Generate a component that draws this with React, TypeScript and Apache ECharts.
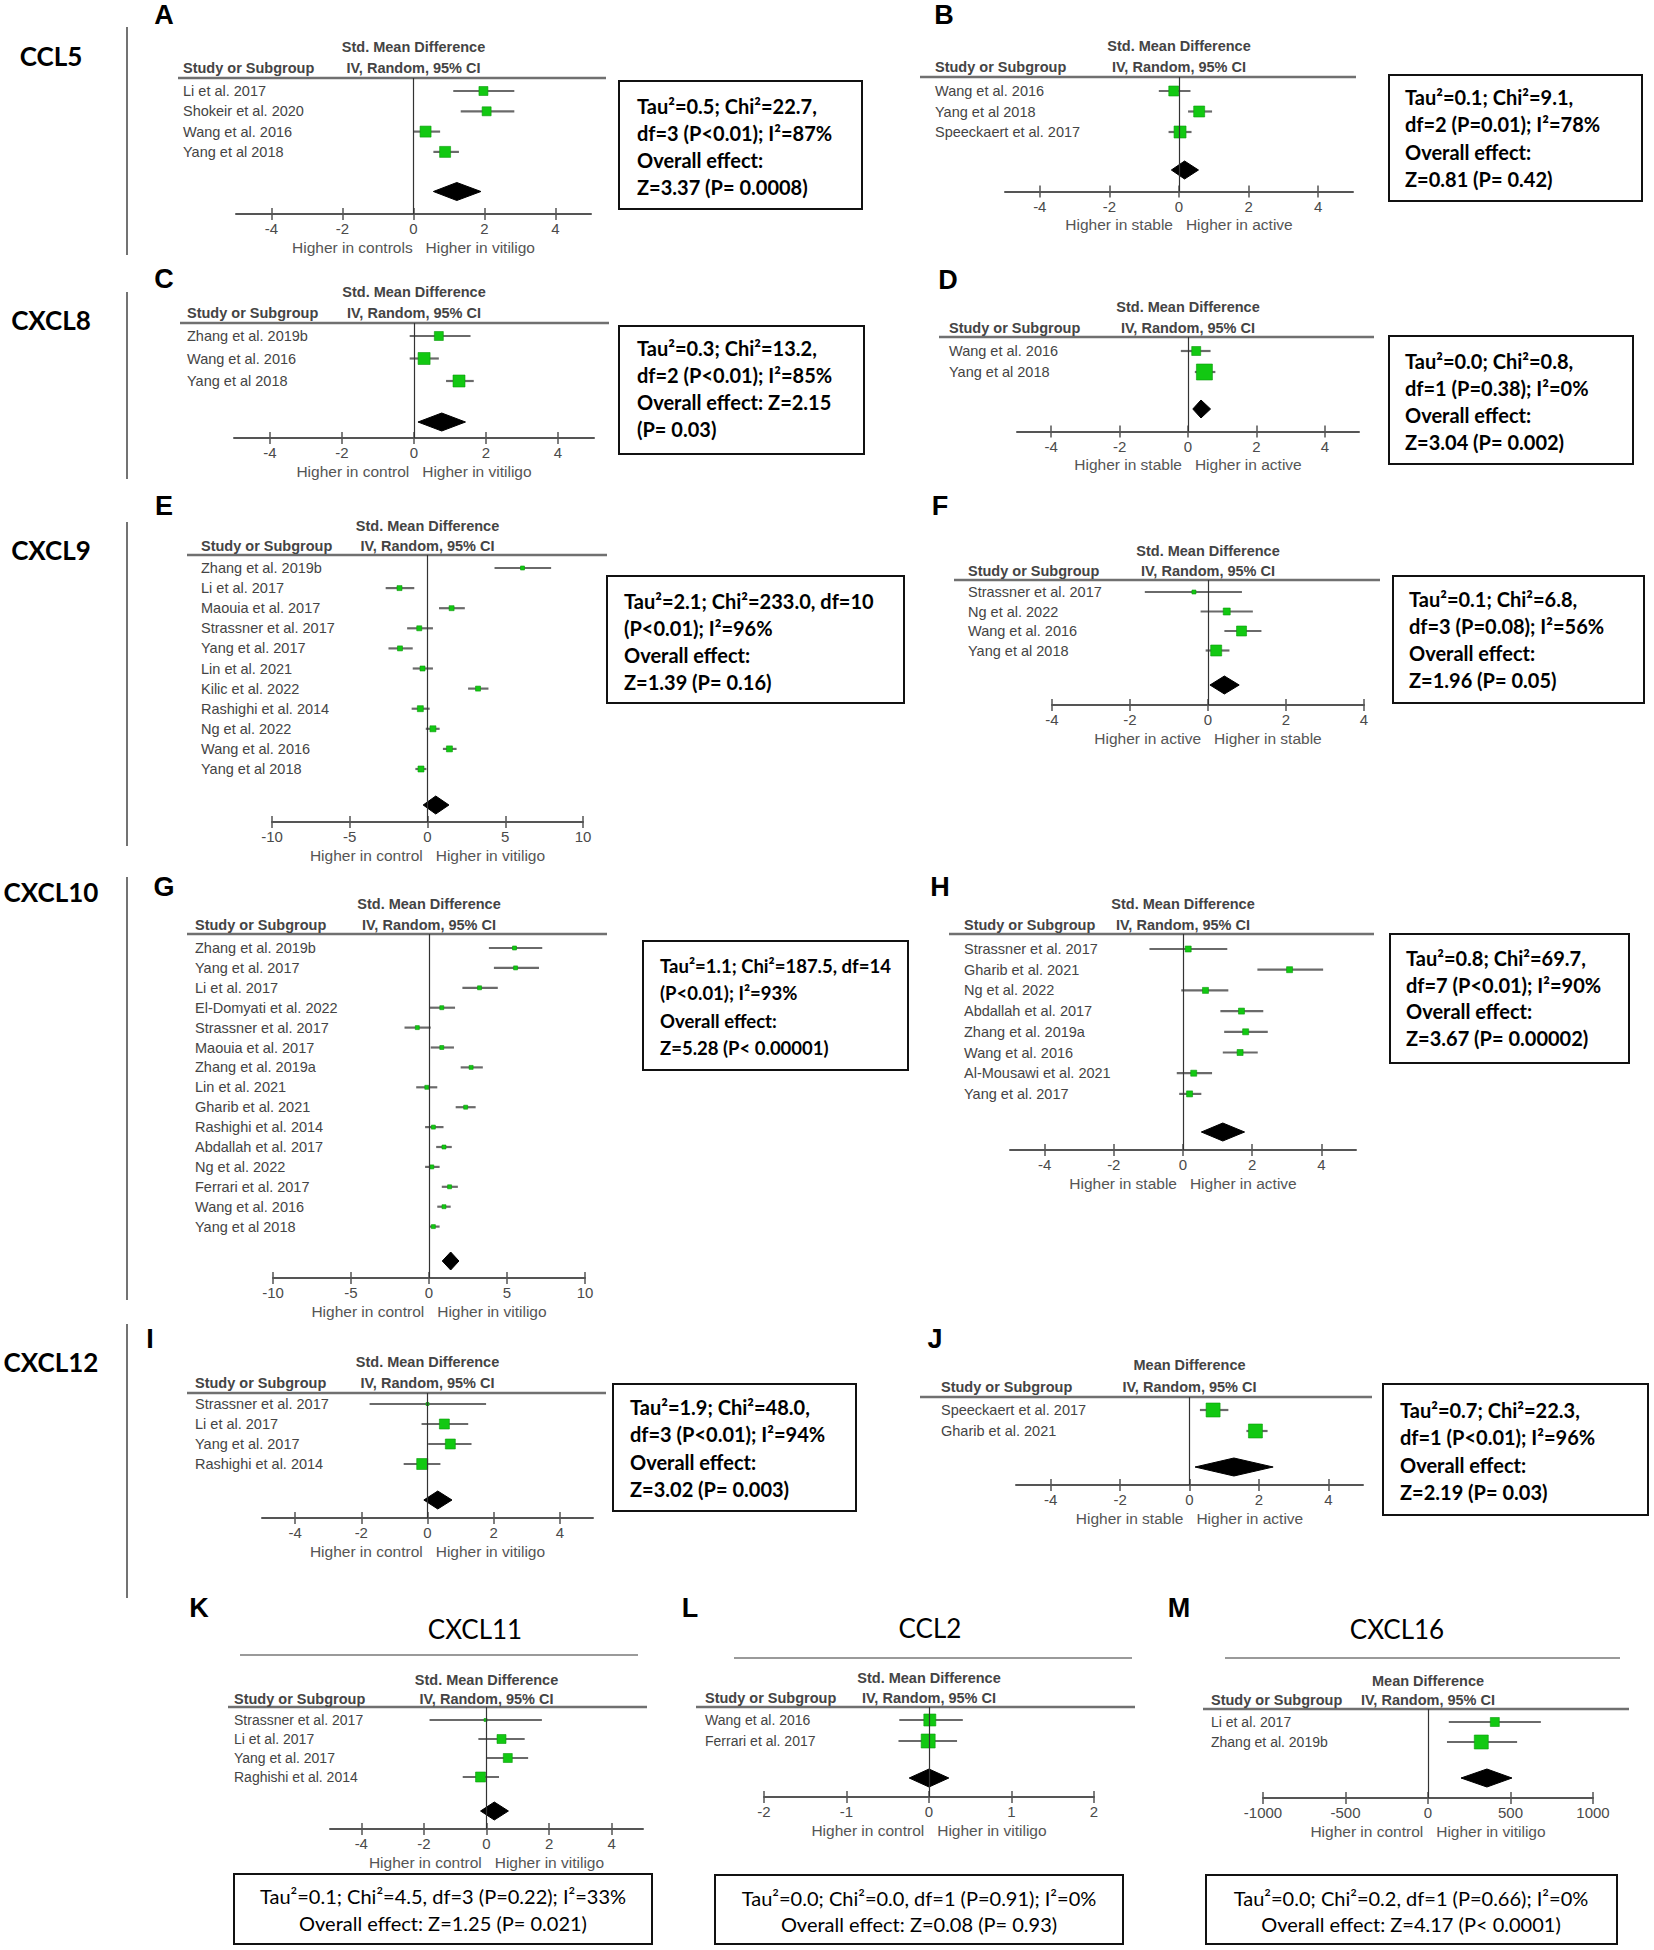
import React, { useEffect, useRef } from "react";
import * as echarts from "echarts";

// ---------------- tick labels ----------------
const ticksPm4 = [-4, -2, 0, 2, 4];
const ticksPm10 = [-10, -5, 0, 5, 10];
const ticksPm2 = [-2, -1, 0, 1, 2];
const ticksPm1000 = [-1000, -500, 0, 500, 1000];

// ---------------- axis captions ----------------
const capControlsA = "Higher in controls   Higher in vitiligo";
const capControl = "Higher in control   Higher in vitiligo";
const capStableActive = "Higher in stable   Higher in active";
const capActiveStable = "Higher in active   Higher in stable";

// ---------------- A: CCL5 ----------------
const studiesA = ["Li et al. 2017", "Shokeir et al. 2020", "Wang et al. 2016", "Yang et al 2018"];
const estA = [1.97, 2.06, 0.34, 0.89];
const loA = [1.12, 1.33, 0.0, 0.56];
const hiA = [2.84, 2.84, 0.75, 1.28];
const sizeA = [9, 9, 11, 11];
const overallA = [0.56, 1.22, 1.9];
const statA = ["Tau²=0.5; Chi²=22.7,", "df=3 (P<0.01); I²=87%", "Overall effect:", "Z=3.37 (P= 0.0008)"];

// ---------------- B: CCL5 active/stable ----------------
const studiesB = ["Wang et al. 2016", "Yang et al 2018", "Speeckaert et al. 2017"];
const estB = [-0.15, 0.58, 0.03];
const loB = [-0.58, 0.26, -0.3];
const hiB = [0.33, 0.95, 0.36];
const sizeB = [10, 11, 12];
const overallB = [-0.22, 0.16, 0.56];
const statB = ["Tau²=0.1; Chi²=9.1,", "df=2 (P=0.01); I²=78%", "Overall effect:", "Z=0.81 (P= 0.42)"];

// ---------------- C: CXCL8 ----------------
const studiesC = ["Zhang et al. 2019b", "Wang et al. 2016", "Yang et al 2018"];
const estC = [0.69, 0.28, 1.25];
const loC = [-0.12, -0.12, 0.89];
const hiC = [1.57, 0.69, 1.66];
const sizeC = [9, 12, 12];
const overallC = [0.11, 0.77, 1.43];
const statC = ["Tau²=0.3; Chi²=13.2,", "df=2 (P<0.01); I²=85%", "Overall effect: Z=2.15", "(P= 0.03)"];

// ---------------- D: CXCL8 active/stable ----------------
const studiesD = ["Wang et al. 2016", "Yang et al 2018"];
const estD = [0.24, 0.48];
const loD = [-0.21, 0.2];
const hiD = [0.66, 0.8];
const sizeD = [9, 16];
const overallD = [0.14, 0.38, 0.66];
const statD = ["Tau²=0.0; Chi²=0.8,", "df=1 (P=0.38); I²=0%", "Overall effect:", "Z=3.04 (P= 0.002)"];

// ---------------- E: CXCL9 ----------------
const studiesE = [
  "Zhang et al. 2019b", "Li et al. 2017", "Maouia et al. 2017", "Strassner et al. 2017", "Yang et al. 2017",
  "Lin et al. 2021", "Kilic et al. 2022", "Rashighi et al. 2014", "Ng et al. 2022", "Wang et al. 2016", "Yang et al 2018",
];
const estE = [6.11, -1.8, 1.55, -0.53, -1.77, -0.32, 3.25, -0.46, 0.35, 1.41, -0.42];
const loE = [4.31, -2.69, 0.74, -1.31, -2.51, -0.95, 2.61, -1.02, -0.11, 0.99, -0.78];
const hiE = [7.95, -0.85, 2.4, 0.35, -0.95, 0.35, 3.92, 0.14, 0.78, 1.87, -0.07];
const sizeE = [4, 5, 5, 5, 5, 5, 5, 6, 6, 6, 6];
const overallE = [-0.28, 0.53, 1.38];
const statE = ["Tau²=2.1; Chi²=233.0, df=10", "(P<0.01); I²=96%", "Overall effect:", "Z=1.39 (P= 0.16)"];

// ---------------- F: CXCL9 active/stable ----------------
const studiesF = ["Strassner et al. 2017", "Ng et al. 2022", "Wang et al. 2016", "Yang et al 2018"];
const estF = [-0.36, 0.48, 0.86, 0.21];
const loF = [-1.62, -0.19, 0.42, -0.06];
const hiF = [0.87, 1.15, 1.37, 0.55];
const sizeF = [4, 7, 10, 11];
const overallF = [0.05, 0.42, 0.8];
const statF = ["Tau²=0.1; Chi²=6.8,", "df=3 (P=0.08); I²=56%", "Overall effect:", "Z=1.96 (P= 0.05)"];

// ---------------- G: CXCL10 ----------------
const studiesG = [
  "Zhang et al. 2019b", "Yang et al. 2017", "Li et al. 2017", "El-Domyati et al. 2022", "Strassner et al. 2017",
  "Maouia et al. 2017", "Zhang et al. 2019a", "Lin et al. 2021", "Gharib et al. 2021", "Rashighi et al. 2014",
  "Abdallah et al. 2017", "Ng et al. 2022", "Ferrari et al. 2017", "Wang et al. 2016", "Yang et al 2018",
];
const estG = [5.48, 5.55, 3.24, 0.82, -0.75, 0.82, 2.7, -0.14, 2.35, 0.28, 0.96, 0.18, 1.32, 0.96, 0.28];
const loG = [3.84, 4.16, 2.14, 0.0, -1.57, 0.11, 2.03, -0.82, 1.71, -0.25, 0.46, -0.25, 0.82, 0.53, 0.0];
const hiG = [7.26, 7.05, 4.41, 1.67, 0.11, 1.6, 3.45, 0.53, 2.99, 0.93, 1.46, 0.68, 1.85, 1.39, 0.68];
const sizeG = [4, 4, 4, 4, 4, 4, 4, 4, 4, 4, 4, 4, 4, 4, 4];
const overallG = [0.85, 1.39, 1.92];
const statG = ["Tau²=1.1; Chi²=187.5, df=14", "(P<0.01); I²=93%", "Overall effect:", "Z=5.28 (P< 0.00001)"];

// ---------------- H: CXCL10 active/stable ----------------
const studiesH = [
  "Strassner et al. 2017", "Gharib et al. 2021", "Ng et al. 2022", "Abdallah et al. 2017",
  "Zhang et al. 2019a", "Wang et al. 2016", "Al-Mousawi et al. 2021", "Yang et al. 2017",
];
const estH = [0.15, 3.08, 0.65, 1.69, 1.81, 1.65, 0.31, 0.19];
const loH = [-0.97, 2.15, -0.05, 1.08, 1.19, 1.15, -0.18, -0.11];
const hiH = [1.28, 4.05, 1.31, 2.32, 2.45, 2.16, 0.84, 0.53];
const sizeH = [6, 6, 6, 6, 6, 6, 6, 6];
const overallH = [0.53, 1.15, 1.78];
const statH = ["Tau²=0.8; Chi²=69.7,", "df=7 (P<0.01); I²=90%", "Overall effect:", "Z=3.67 (P= 0.00002)"];

// ---------------- I: CXCL12 ----------------
const studiesI = ["Strassner et al. 2017", "Li et al. 2017", "Yang et al. 2017", "Rashighi et al. 2014"];
const estI = [0.0, 0.51, 0.69, -0.16];
const loI = [-1.75, -0.18, 0.02, -0.72];
const hiI = [1.77, 1.23, 1.33, 0.39];
const sizeI = [3, 10, 10, 11];
const overallI = [-0.11, 0.31, 0.74];
const statI = ["Tau²=1.9; Chi²=48.0,", "df=3 (P<0.01); I²=94%", "Overall effect:", "Z=3.02 (P= 0.003)"];

// ---------------- J: CXCL12 active/stable ----------------
const studiesJ = ["Speeckaert et al. 2017", "Gharib et al. 2021"];
const estJ = [0.68, 1.9];
const loJ = [0.3, 1.64];
const hiJ = [1.12, 2.25];
const sizeJ = [14, 14];
const overallJ = [0.16, 1.28, 2.41];
const statJ = ["Tau²=0.7; Chi²=22.3,", "df=1 (P<0.01); I²=96%", "Overall effect:", "Z=2.19 (P= 0.03)"];

// ---------------- K: CXCL11 ----------------
const studiesK = ["Strassner et al. 2017", "Li et al. 2017", "Yang et al. 2017", "Raghishi et al. 2014"];
const estK = [-0.03, 0.48, 0.68, -0.19];
const loK = [-1.82, -0.26, 0.0, -0.76];
const hiK = [1.77, 1.22, 1.33, 0.4];
const sizeK = [3, 9, 9, 10];
const overallK = [-0.19, 0.25, 0.7];
const statK = ["Tau²=0.1; Chi²=4.5, df=3 (P=0.22); I²=33%", "Overall effect: Z=1.25 (P= 0.021)"];

// ---------------- L: CCL2 ----------------
const studiesL = ["Wang et al. 2016", "Ferrari et al. 2017"];
const estL = [0.01, -0.01];
const loL = [-0.36, -0.37];
const hiL = [0.41, 0.34];
const sizeL = [12, 14];
const overallL = [-0.24, 0.0, 0.24];
const statL = ["Tau²=0.0; Chi²=0.0, df=1 (P=0.91); I²=0%", "Overall effect: Z=0.08 (P= 0.93)"];

// ---------------- M: CXCL16 ----------------
const studiesM = ["Li et al. 2017", "Zhang et al. 2019b"];
const estM = [405, 323];
const loM = [126, 115];
const hiM = [684, 540];
const sizeM = [9, 14];
const overallM = [200, 357, 509];
const statM = ["Tau²=0.0; Chi²=0.2, df=1 (P=0.66); I²=0%", "Overall effect: Z=4.17 (P< 0.0001)"];

// ---------------- side labels ----------------
const geneLabels = ["CCL5", "CXCL8", "CXCL9", "CXCL10", "CXCL12"];
const bottomTitles = ["CXCL11", "CCL2", "CXCL16"];

const SANS = "'Liberation Sans', Arial, sans-serif";
const CAL = "Lato, 'Open Sans', sans-serif";

type Layout = {
  plotL: number; plotR: number; headY: number; axisY: number; lineL: number; lineR: number;
  labelX: number; rowY0: number; rowStep: number; diaY: number; smdY: number; hdrY: number;
  box: number[]; statX: number; statY0: number; statStep: number; statCenter?: boolean; statFont?: number;
  letter: number[]; labelFont: number;
};

type Panel = {
  id: string; studies: string[]; est: number[]; lo: number[]; hi: number[]; size: number[];
  overall: number[]; stat: string[]; measure: string; caption: string; ticks: number[];
  xMin: number; xMax: number; L: Layout;
};

const panels: Panel[] = [
  { id: "A", studies: studiesA, est: estA, lo: loA, hi: hiA, size: sizeA, overall: overallA, stat: statA,
    measure: "Std. Mean Difference", caption: capControlsA, ticks: ticksPm4, xMin: -5, xMax: 5,
    L: { plotL: 236, plotR: 591, headY: 78, axisY: 214, lineL: 178, lineR: 606, labelX: 183, rowY0: 91, rowStep: 20.3,
      diaY: 191.5, smdY: 47, hdrY: 68, box: [619, 81, 243, 128], statX: 637, statY0: 106, statStep: 27, letter: [164, 15], labelFont: 14.5 } },
  { id: "B", studies: studiesB, est: estB, lo: loB, hi: hiB, size: sizeB, overall: overallB, stat: statB,
    measure: "Std. Mean Difference", caption: capStableActive, ticks: ticksPm4, xMin: -5, xMax: 5,
    L: { plotL: 1005, plotR: 1353, headY: 77, axisY: 191.5, lineL: 920, lineR: 1356, labelX: 935, rowY0: 91, rowStep: 20.5,
      diaY: 170, smdY: 46, hdrY: 67, box: [1389, 75, 253, 126], statX: 1405, statY0: 97, statStep: 27.3, letter: [944, 15], labelFont: 14.5 } },
  { id: "C", studies: studiesC, est: estC, lo: loC, hi: hiC, size: sizeC, overall: overallC, stat: statC,
    measure: "Std. Mean Difference", caption: capControl, ticks: ticksPm4, xMin: -5, xMax: 5,
    L: { plotL: 234, plotR: 594, headY: 323, axisY: 438, lineL: 180, lineR: 609, labelX: 187, rowY0: 336, rowStep: 22.5,
      diaY: 422, smdY: 292, hdrY: 313, box: [619, 326, 245, 128], statX: 637, statY0: 348, statStep: 27, letter: [164, 279], labelFont: 14.5 } },
  { id: "D", studies: studiesD, est: estD, lo: loD, hi: hiD, size: sizeD, overall: overallD, stat: statD,
    measure: "Std. Mean Difference", caption: capStableActive, ticks: ticksPm4, xMin: -5, xMax: 5,
    L: { plotL: 1017, plotR: 1359, headY: 337, axisY: 431.5, lineL: 939, lineR: 1374, labelX: 949, rowY0: 351, rowStep: 21,
      diaY: 409, smdY: 307, hdrY: 328, box: [1389, 336, 244, 128], statX: 1405, statY0: 361, statStep: 27, letter: [948, 280], labelFont: 14.5 } },
  { id: "E", studies: studiesE, est: estE, lo: loE, hi: hiE, size: sizeE, overall: overallE, stat: statE,
    measure: "Std. Mean Difference", caption: capControl, ticks: ticksPm10, xMin: -10, xMax: 10,
    L: { plotL: 272, plotR: 583, headY: 555, axisY: 822, lineL: 187, lineR: 607, labelX: 201, rowY0: 568, rowStep: 20.1,
      diaY: 805, smdY: 526, hdrY: 546, box: [607, 576, 297, 127], statX: 624, statY0: 601, statStep: 27, letter: [164, 506], labelFont: 14.5 } },
  { id: "F", studies: studiesF, est: estF, lo: loF, hi: hiF, size: sizeF, overall: overallF, stat: statF,
    measure: "Std. Mean Difference", caption: capActiveStable, ticks: ticksPm4, xMin: -4, xMax: 4,
    L: { plotL: 1052, plotR: 1364, headY: 580, axisY: 705, lineL: 954, lineR: 1380, labelX: 968, rowY0: 592, rowStep: 19.5,
      diaY: 685, smdY: 551, hdrY: 571, box: [1393, 576, 251, 127], statX: 1409, statY0: 599, statStep: 27, letter: [940, 506], labelFont: 14.5 } },
  { id: "G", studies: studiesG, est: estG, lo: loG, hi: hiG, size: sizeG, overall: overallG, stat: statG,
    measure: "Std. Mean Difference", caption: capControl, ticks: ticksPm10, xMin: -10, xMax: 10,
    L: { plotL: 273, plotR: 585, headY: 934, axisY: 1278, lineL: 187, lineR: 607, labelX: 195, rowY0: 948, rowStep: 19.9,
      diaY: 1261, smdY: 904, hdrY: 925, box: [643, 941, 265, 129], statX: 660, statY0: 966, statStep: 27.3, statFont: 18.5, letter: [164, 887], labelFont: 14.5 } },
  { id: "H", studies: studiesH, est: estH, lo: loH, hi: hiH, size: sizeH, overall: overallH, stat: statH,
    measure: "Std. Mean Difference", caption: capStableActive, ticks: ticksPm4, xMin: -5, xMax: 5,
    L: { plotL: 1010, plotR: 1356, headY: 934, axisY: 1150, lineL: 949, lineR: 1374, labelX: 964, rowY0: 949, rowStep: 20.7,
      diaY: 1132, smdY: 904, hdrY: 925, box: [1390, 934, 239, 129], statX: 1406, statY0: 958, statStep: 26.7, letter: [940, 887], labelFont: 14.5 } },
  { id: "I", studies: studiesI, est: estI, lo: loI, hi: hiI, size: sizeI, overall: overallI, stat: statI,
    measure: "Std. Mean Difference", caption: capControl, ticks: ticksPm4, xMin: -5, xMax: 5,
    L: { plotL: 262, plotR: 593, headY: 1393, axisY: 1518, lineL: 187, lineR: 606, labelX: 195, rowY0: 1404, rowStep: 20,
      diaY: 1500, smdY: 1362, hdrY: 1383, box: [613, 1384, 243, 127], statX: 630, statY0: 1407, statStep: 27.3, letter: [150, 1339], labelFont: 14.5 } },
  { id: "J", studies: studiesJ, est: estJ, lo: loJ, hi: hiJ, size: sizeJ, overall: overallJ, stat: statJ,
    measure: "Mean Difference", caption: capStableActive, ticks: ticksPm4, xMin: -5, xMax: 5,
    L: { plotL: 1016, plotR: 1363, headY: 1397, axisY: 1485, lineL: 920, lineR: 1372, labelX: 941, rowY0: 1410, rowStep: 21,
      diaY: 1467, smdY: 1365, hdrY: 1387, box: [1383, 1384, 265, 131], statX: 1400, statY0: 1410, statStep: 27.3, letter: [935, 1339], labelFont: 14.5 } },
  { id: "K", studies: studiesK, est: estK, lo: loK, hi: hiK, size: sizeK, overall: overallK, stat: statK,
    measure: "Std. Mean Difference", caption: capControl, ticks: ticksPm4, xMin: -5, xMax: 5,
    L: { plotL: 330, plotR: 643, headY: 1707, axisY: 1829, lineL: 228, lineR: 647, labelX: 234, rowY0: 1720, rowStep: 19,
      diaY: 1811, smdY: 1680, hdrY: 1699, box: [234, 1874, 418, 70], statX: 443, statY0: 1896, statStep: 27, statCenter: true, letter: [199, 1608], labelFont: 14 } },
  { id: "L", studies: studiesL, est: estL, lo: loL, hi: hiL, size: sizeL, overall: overallL, stat: statL,
    measure: "Std. Mean Difference", caption: capControl, ticks: ticksPm2, xMin: -2, xMax: 2,
    L: { plotL: 764, plotR: 1094, headY: 1707, axisY: 1797, lineL: 696, lineR: 1135, labelX: 705, rowY0: 1720, rowStep: 21,
      diaY: 1778, smdY: 1678, hdrY: 1698, box: [715, 1875, 408, 69], statX: 919, statY0: 1898, statStep: 26, statCenter: true, letter: [690, 1608], labelFont: 14 } },
  { id: "M", studies: studiesM, est: estM, lo: loM, hi: hiM, size: sizeM, overall: overallM, stat: statM,
    measure: "Mean Difference", caption: capControl, ticks: ticksPm1000, xMin: -1000, xMax: 1000,
    L: { plotL: 1263, plotR: 1593, headY: 1709, axisY: 1798, lineL: 1203, lineR: 1629, labelX: 1211, rowY0: 1722, rowStep: 20,
      diaY: 1778, smdY: 1681, hdrY: 1700, box: [1206, 1875, 411, 69], statX: 1411, statY0: 1898, statStep: 26, statCenter: true, letter: [1179, 1608], labelFont: 14 } },
];

// left-side gene labels (x-center, y-center) and separator segments
const geneLayout = [[51, 56], [51, 320], [51, 550], [51, 892], [51, 1362]];
const separatorSegments = [[27, 255], [292, 479], [522, 846], [877, 1300], [1324, 1598]];
const titleLayout = [
  { x: 475, y: 1629, l: 240, r: 638, ly: 1655 },
  { x: 930, y: 1628, l: 734, r: 1132, ly: 1658 },
  { x: 1397, y: 1629, l: 1225, r: 1620, ly: 1658 },
];

function txt(x: number, y: number, text: string, font: string, fill: string, align: string, valign = "middle") {
  return {
    type: "text", x, y, z: 10, silent: true,
    style: { text, font, fill, align, verticalAlign: valign, textAlign: align, textVerticalAlign: valign },
  };
}

function buildOption() {
  const grid: any[] = [];
  const xAxis: any[] = [];
  const yAxis: any[] = [];
  const series: any[] = [];
  const elements: any[] = [];

  panels.forEach((p, k) => {
    const L = p.L;
    grid.push({ left: L.plotL, top: L.headY, width: L.plotR - L.plotL, height: L.axisY - L.headY });
    const yMin = -(L.rowY0 - L.headY) / L.rowStep;
    const yMax = (L.axisY - L.rowY0) / L.rowStep;
    const diaRow = (L.diaY - L.rowY0) / L.rowStep;
    const tickStyle = { color: "#555", width: 1.5 };
    xAxis.push({
      type: "value", gridIndex: k, position: "bottom", min: p.xMin, max: p.xMax,
      splitLine: { show: false },
      axisLine: { show: true, onZero: false, lineStyle: { color: "#555", width: 2 } },
      axisTick: { show: true, inside: false, length: 6, customValues: p.ticks, lineStyle: tickStyle },
      axisLabel: { show: true, customValues: p.ticks, margin: 7, color: "#4a4a4a", fontSize: 15, fontFamily: SANS,
        formatter: (v: number) => String(v) },
      name: p.caption, nameLocation: "middle", nameGap: 25,
      nameTextStyle: { color: "#555", fontSize: 15.5, fontFamily: SANS },
    });
    xAxis.push({
      type: "value", gridIndex: k, position: "bottom", min: p.xMin, max: p.xMax,
      splitLine: { show: false },
      axisLine: { show: false, onZero: false },
      axisTick: { show: true, inside: true, length: 6, customValues: p.ticks, lineStyle: tickStyle },
      axisLabel: { show: false },
    });
    yAxis.push({ type: "value", gridIndex: k, inverse: true, min: yMin, max: yMax, show: false, splitLine: { show: false } });

    const rows = p.studies.map((_, i) => [p.est[i], p.lo[i], p.hi[i], i, p.size[i]]);
    const labelOffset = L.plotL - L.labelX;
    const labelFont = `${L.labelFont}px ${SANS}`;
    series.push({
      type: "custom", name: "studies" + p.id, xAxisIndex: 2 * k, yAxisIndex: k, clip: false, z: 3,
      data: rows,
      renderItem: (params: any, api: any) => {
        const est = api.value(0), lo = api.value(1), hi = api.value(2), row = api.value(3), sz = api.value(4);
        const c = api.coord([est, row]);
        const a = api.coord([lo, row]);
        const b = api.coord([hi, row]);
        const cs = params.coordSys;
        return {
          type: "group",
          children: [
            { type: "line", shape: { x1: a[0], y1: a[1], x2: b[0], y2: b[1] }, style: { stroke: "#6a6a6a", lineWidth: 2.2 } },
            { type: "rect", shape: { x: c[0] - sz / 2, y: c[1] - sz / 2, width: sz, height: sz },
              style: { fill: "#12c812", stroke: "#0b9a0b", lineWidth: 0.6 } },
            { type: "text", x: cs.x - labelOffset, y: c[1],
              style: { text: p.studies[params.dataIndex], font: labelFont, fill: "#444",
                align: "left", verticalAlign: "middle", textAlign: "left", textVerticalAlign: "middle" } },
          ],
        };
      },
      markLine: {
        silent: true, symbol: ["none", "none"], label: { show: false },
        lineStyle: { color: "#333", width: 1.2, type: "solid" },
        data: [{ xAxis: 0 }],
      },
    });
    series.push({
      type: "custom", name: "overall" + p.id, xAxisIndex: 2 * k, yAxisIndex: k, clip: false, z: 4,
      data: [[p.overall[0], p.overall[1], p.overall[2], diaRow]],
      renderItem: (_params: any, api: any) => {
        const row = api.value(3);
        const a = api.coord([api.value(0), row]);
        const m = api.coord([api.value(1), row]);
        const b = api.coord([api.value(2), row]);
        const h = 9;
        return {
          type: "polygon",
          shape: { points: [[a[0], a[1]], [m[0], m[1] - h], [b[0], b[1]], [m[0], m[1] + h]] },
          style: { fill: "#000", stroke: "#000", lineWidth: 1 },
        };
      },
    });

    // headers, header line, letters, stat box
    const zeroX = L.plotL + ((0 - p.xMin) / (p.xMax - p.xMin)) * (L.plotR - L.plotL);
    const hdrFont = `bold 14.5px ${SANS}`;
    elements.push(txt(zeroX, L.smdY, p.measure, hdrFont, "#444", "center"));
    elements.push(txt(L.labelX, L.hdrY, "Study or Subgroup", hdrFont, "#444", "left"));
    elements.push(txt(zeroX, L.hdrY, "IV, Random, 95% CI", hdrFont, "#444", "center"));
    elements.push({ type: "line", z: 5, silent: true, shape: { x1: L.lineL, y1: L.headY, x2: L.lineR, y2: L.headY },
      style: { stroke: "#707070", lineWidth: 2.5 } });
    elements.push(txt(L.letter[0], L.letter[1], p.id, `bold 27px ${SANS}`, "#000", "center"));
    elements.push({ type: "rect", z: 5, silent: true, shape: { x: L.box[0], y: L.box[1], width: L.box[2], height: L.box[3] },
      style: { fill: "#fff", stroke: "#111", lineWidth: 2 } });
    p.stat.forEach((s, i) => {
      if (L.statCenter) {
        elements.push(txt(L.statX, L.statY0 + i * L.statStep, s, `20px ${CAL}`, "#000", "center"));
      } else {
        elements.push(txt(L.statX, L.statY0 + i * L.statStep, s, `bold ${L.statFont || 20}px ${CAL}`, "#000", "left"));
      }
    });
  });

  geneLabels.forEach((g, i) => {
    elements.push(txt(geneLayout[i][0], geneLayout[i][1], g, `bold 26px ${CAL}`, "#000", "center"));
  });
  separatorSegments.forEach((s) => {
    elements.push({ type: "line", silent: true, shape: { x1: 127, y1: s[0], x2: 127, y2: s[1] },
      style: { stroke: "#444", lineWidth: 1.5 } });
  });
  bottomTitles.forEach((t, i) => {
    const tl = titleLayout[i];
    elements.push(txt(tl.x, tl.y, t, `26px ${CAL}`, "#000", "center"));
    elements.push({ type: "line", silent: true, shape: { x1: tl.l, y1: tl.ly, x2: tl.r, y2: tl.ly },
      style: { stroke: "#9a9a9a", lineWidth: 2 } });
  });

  return {
    animation: false,
    backgroundColor: "#fff",
    textStyle: { fontFamily: SANS },
    grid, xAxis, yAxis, series,
    graphic: { elements },
  };
}

export default function App() {
  const ref = useRef<HTMLDivElement>(null);
  useEffect(() => {
    if (!ref.current) return;
    const chart = echarts.init(ref.current, undefined, { renderer: "svg" });
    chart.setOption(buildOption() as any);
    return () => chart.dispose();
  }, []);
  return (
    <div
      ref={ref}
      style={{ position: "absolute", left: 0, top: 0, width: 1654, height: 1950, background: "#fff" }}
    />
  );
}
